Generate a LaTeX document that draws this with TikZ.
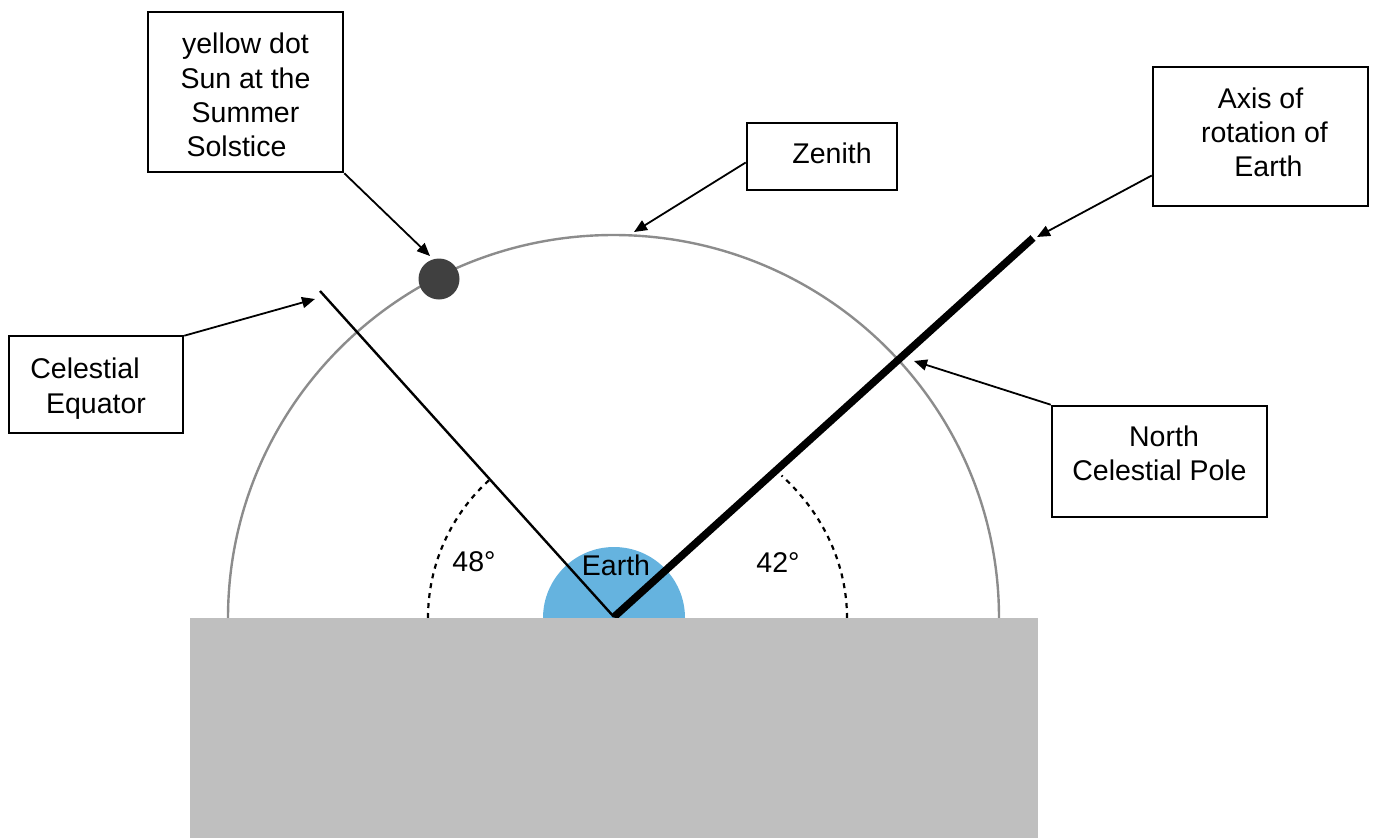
\documentclass[tikz,border=0pt]{standalone}
\usepackage{fontspec}
\setmainfont{Liberation Sans}
\usetikzlibrary{arrows.meta}
\definecolor{groundgray}{HTML}{BFBFBF}
\definecolor{earthblue}{HTML}{65B3DF}
\definecolor{skygray}{HTML}{8C8C8C}
\definecolor{sundark}{HTML}{404040}
\begin{document}
\begin{tikzpicture}[x=1pt,y=-1pt,
  txt/.style={font=\fontsize{28.5}{34.3}\selectfont, inner sep=0pt, align=center},
  box/.style={draw=black, line width=2.6pt, fill=white, rectangle, inner sep=0pt},
  callout/.style={-{Triangle[length=13pt,width=11pt]}, line width=1.8pt},
  sky/.style={draw=skygray, line width=2.4pt},
  anglearc/.style={draw=black, line width=2.2pt, dash pattern=on 5pt off 5pt}]
\useasboundingbox (0,0) rectangle (1375,838);

% observer's sky dome
\draw[sky] (228,618) arc[start angle=180, end angle=0, x radius=385.5pt, y radius=383pt];

% Earth
\fill[earthblue] (543,618) arc[start angle=180, end angle=0, radius=71pt] -- cycle;
\node[txt] (earth) at (616,565) {Earth};

% angle arcs
\draw[anglearc] (428,618) arc[start angle=180, end angle=131.8, radius=186pt];
\draw[anglearc] (847,618) arc[start angle=0, end angle=44, x radius=233pt, y radius=205pt];
\node[txt] (ang48) at (474,562) {48°};
\node[txt] (ang42) at (778,563) {42°};

% celestial equator and rotation axis
\coordinate (centre) at (614,617);
\coordinate (eqend) at (320,291);
\coordinate (axend) at (1033,238);
\draw[line width=2.4pt] (centre) -- (eqend);
\draw[line width=7.5pt] (centre) -- (axend);

% Sun
\fill[sundark] (439,279) circle[radius=20.5pt];

% ground
\fill[groundgray] (190,618) rectangle (1038,838);

% label frames
\node[box, minimum width=195pt, minimum height=160pt] (sunbox) at (245.5,92) {};
\node[box, minimum width=150pt, minimum height=67pt] (zenbox) at (822,156.5) {};
\node[box, minimum width=215pt, minimum height=139pt] (axbox) at (1260.5,136.5) {};
\node[box, minimum width=174pt, minimum height=97pt] (eqbox) at (96,384.5) {};
\node[box, minimum width=215pt, minimum height=111pt] (ncpbox) at (1159.5,461.5) {};

% label texts
\node[txt] (suntext) at (245.5,95)
  {yellow dot\\Sun at the\\Summer\\Solstice\hspace*{18pt}};
\node[txt] (zentext) at (822,153.5) {\hspace*{20pt}Zenith};
\node[txt] (axtext) at (1260.5,132.5)
  {Axis of\\\hspace*{8pt}rotation of\\\hspace*{16pt}Earth};
\node[txt] (eqtext) at (96,388.5) {Celestial\hspace*{22pt}\\Equator};
\node[txt] (ncptext) at (1159.5,453.5) {\hspace*{9pt}North\\Celestial Pole};

% callout targets
\coordinate (suntip) at (430,256);
\coordinate (zentip) at (634,232);
\coordinate (axtip) at (1037,237);
\coordinate (eqtip) at (315,299);
\coordinate (ncptip) at (914,361);

\draw[callout] (sunbox.south east) -- (suntip);
\draw[callout] ([yshift=-6pt]zenbox.west) -- (zentip);
\draw[callout] ([yshift=-39pt]axbox.west) -- (axtip);
\draw[callout] ([yshift=-1pt]eqbox.north east) -- (eqtip);
\draw[callout] (ncpbox.north west) -- (ncptip);
\end{tikzpicture}
\end{document}
